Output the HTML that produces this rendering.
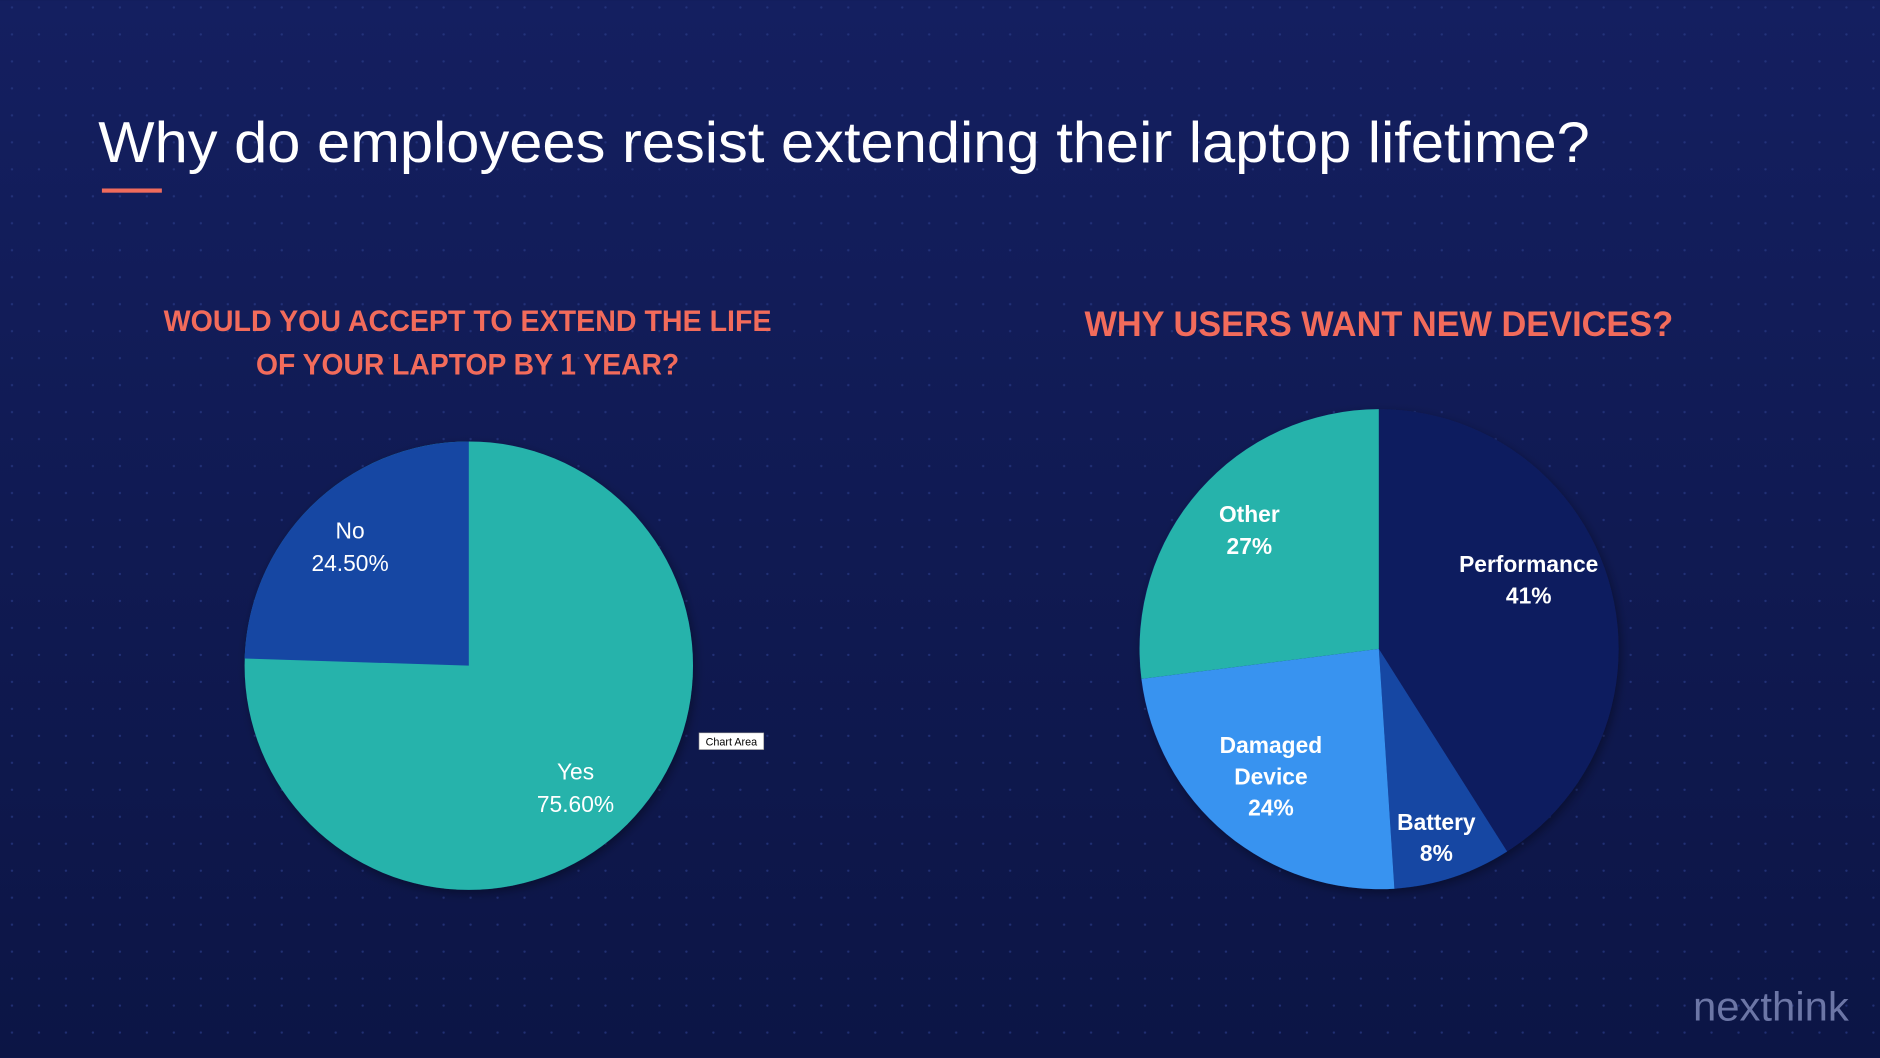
<!DOCTYPE html>
<html><head><meta charset="utf-8"><style>
html,body{margin:0;padding:0;background:#111b55;}
svg{display:block;}
</style></head><body>
<svg width="1880" height="1058" viewBox="0 0 1568 882" xmlns="http://www.w3.org/2000/svg" font-family="'Liberation Sans', sans-serif">
<defs>
<linearGradient id="bg" x1="0" y1="0" x2="0" y2="1">
<stop offset="0" stop-color="#141f60"/>
<stop offset="1" stop-color="#0c1545"/>
</linearGradient>
<pattern id="dots" width="22.5" height="22.5" patternUnits="userSpaceOnUse" x="8" y="4">
<circle cx="2" cy="2" r="1" fill="#2a3a86" opacity="0.7"/>
</pattern>
<filter id="sh" x="-10%" y="-10%" width="120%" height="120%"><feDropShadow dx="2" dy="3" stdDeviation="4" flood-color="#000" flood-opacity="0.35"/></filter>
</defs>
<rect width="1568" height="882" fill="url(#bg)"/>
<rect width="1568" height="882" fill="url(#dots)"/>
<text x="82" y="135" font-size="48" fill="#ffffff" textLength="1244" lengthAdjust="spacingAndGlyphs">Why do employees resist extending their laptop lifetime?</text>
<rect x="85" y="157" width="50" height="3.5" fill="#f06b5c"/>
<g fill="#f26b5b" font-weight="bold" text-anchor="middle">
<text x="390" y="276" font-size="25" textLength="507" lengthAdjust="spacingAndGlyphs">WOULD YOU ACCEPT TO EXTEND THE LIFE</text>
<text x="390" y="312" font-size="25" textLength="353" lengthAdjust="spacingAndGlyphs">OF YOUR LAPTOP BY 1 YEAR?</text>
<text x="1150" y="280" font-size="29" textLength="491" lengthAdjust="spacingAndGlyphs">WHY USERS WANT NEW DEVICES?</text>
</g>
<!-- left pie -->
<g filter="url(#sh)">
<circle cx="391" cy="555" r="187" fill="#25b3ab"/>
<path d="M391,555 L391,368 A187,187 0 0 0 204,549 Z" fill="#1447a3"/>
</g>
<g fill="#fff" font-size="19" text-anchor="middle">
<text x="292" y="449">No</text>
<text x="292" y="476">24.50%</text>
<text x="480" y="650">Yes</text>
<text x="480" y="677">75.60%</text>
</g>
<rect x="583" y="611" width="54" height="14" fill="#fff" stroke="#888" stroke-width="0.5"/>
<text x="610" y="621.5" font-size="9" fill="#000" text-anchor="middle">Chart Area</text>
<!-- right pie -->
<g filter="url(#sh)">
<circle cx="1150" cy="541" r="200" fill="#111d5e"/>
<path d="M1150,541 L1257,710 A200,200 0 0 1 1163,741 Z" fill="#1447a3"/>
<path d="M1150,541 L1163,741 A200,200 0 0 1 952,566 Z" fill="#3893f0"/>
<path d="M1150,541 L952,566 A200,200 0 0 1 1150,341 Z" fill="#25b3ab"/>
</g>
<g fill="#fff" font-size="19" font-weight="bold" text-anchor="middle">
<text x="1042" y="435">Other</text>
<text x="1042" y="462">27%</text>
<text x="1275" y="477">Performance</text>
<text x="1275" y="503">41%</text>
<text x="1060" y="628">Damaged</text>
<text x="1060" y="654">Device</text>
<text x="1060" y="680">24%</text>
<text x="1198" y="692">Battery</text>
<text x="1198" y="718">8%</text>
</g>
<text x="1412" y="851" font-size="34" fill="#6c76a6" textLength="130" lengthAdjust="spacingAndGlyphs">nexthink</text>
</svg>
</body></html>
